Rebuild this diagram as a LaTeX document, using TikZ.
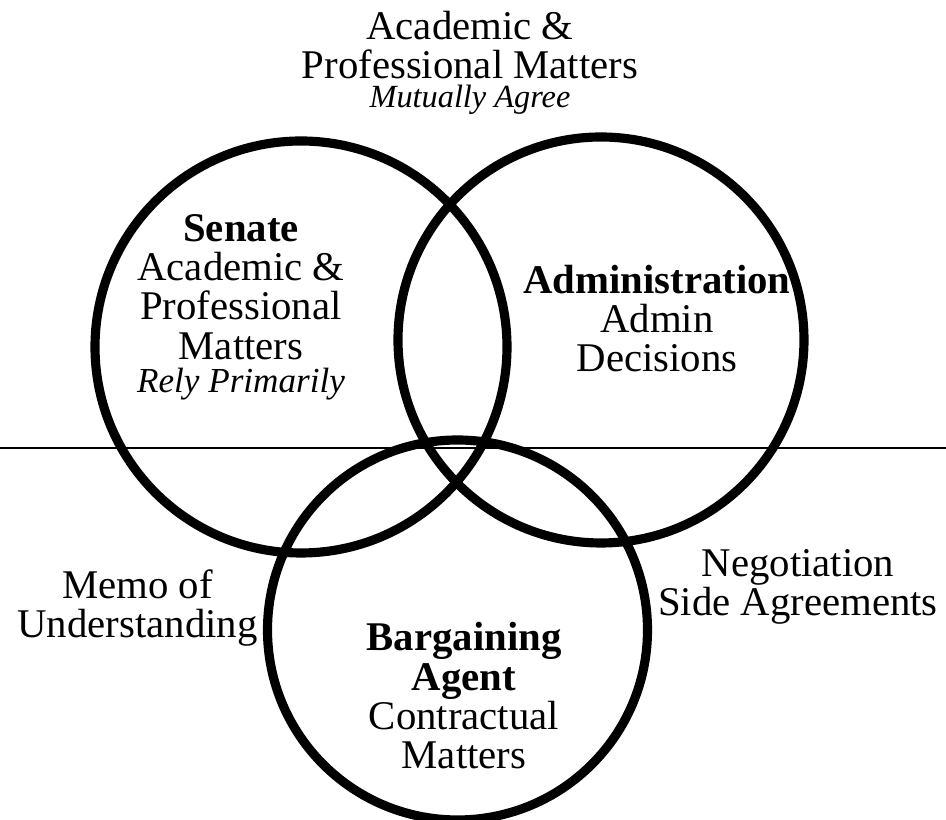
\documentclass[tikz,border=0pt]{standalone}
\usepackage{fontspec}
\setmainfont{Liberation Serif}

\begin{document}
\begin{tikzpicture}[line width=2.6pt,
  lbl/.style={align=center,anchor=base,inner sep=0pt,font=\fontsize{11.6}{11.2}\selectfont}]
  \useasboundingbox (0,0) rectangle (9.46,8.20);
  % los tres circulos
  \draw (3.01,4.73) circle (2.06);
  \draw (6.01,4.80) circle (2.03);
  \draw (4.575,1.90) circle (1.90);
  % linea horizontal
  \draw[line width=0.4pt] (0,3.72)--(9.46,3.72);
  % textos (anclados en la linea de base de la ultima linea)
  \node[lbl] (mutual) at (4.70,7.12){Academic \&\\Professional Matters\\[-2.8pt]{\fontsize{9.2}{9.2}\selectfont\itshape Mutually Agree}};
  \node[lbl] (senate) at (2.41,4.27){\textbf{Senate}\\Academic \&\\Professional\\Matters\\[-1.6pt]{\fontsize{10}{10}\selectfont\itshape Rely Primarily}};
  \node[lbl] (admin) at (6.57,4.48){\textbf{Administration}\\Admin\\Decisions};
  \node[lbl] (agent) at (4.64,0.51){\textbf{Bargaining}\\\textbf{Agent}\\Contractual\\Matters};
  \node[lbl] (memo) at (1.375,1.82){Memo of\\Understanding};
  \node[lbl] (side) at (7.98,2.04){Negotiation\\Side Agreements};
\end{tikzpicture}
\end{document}
